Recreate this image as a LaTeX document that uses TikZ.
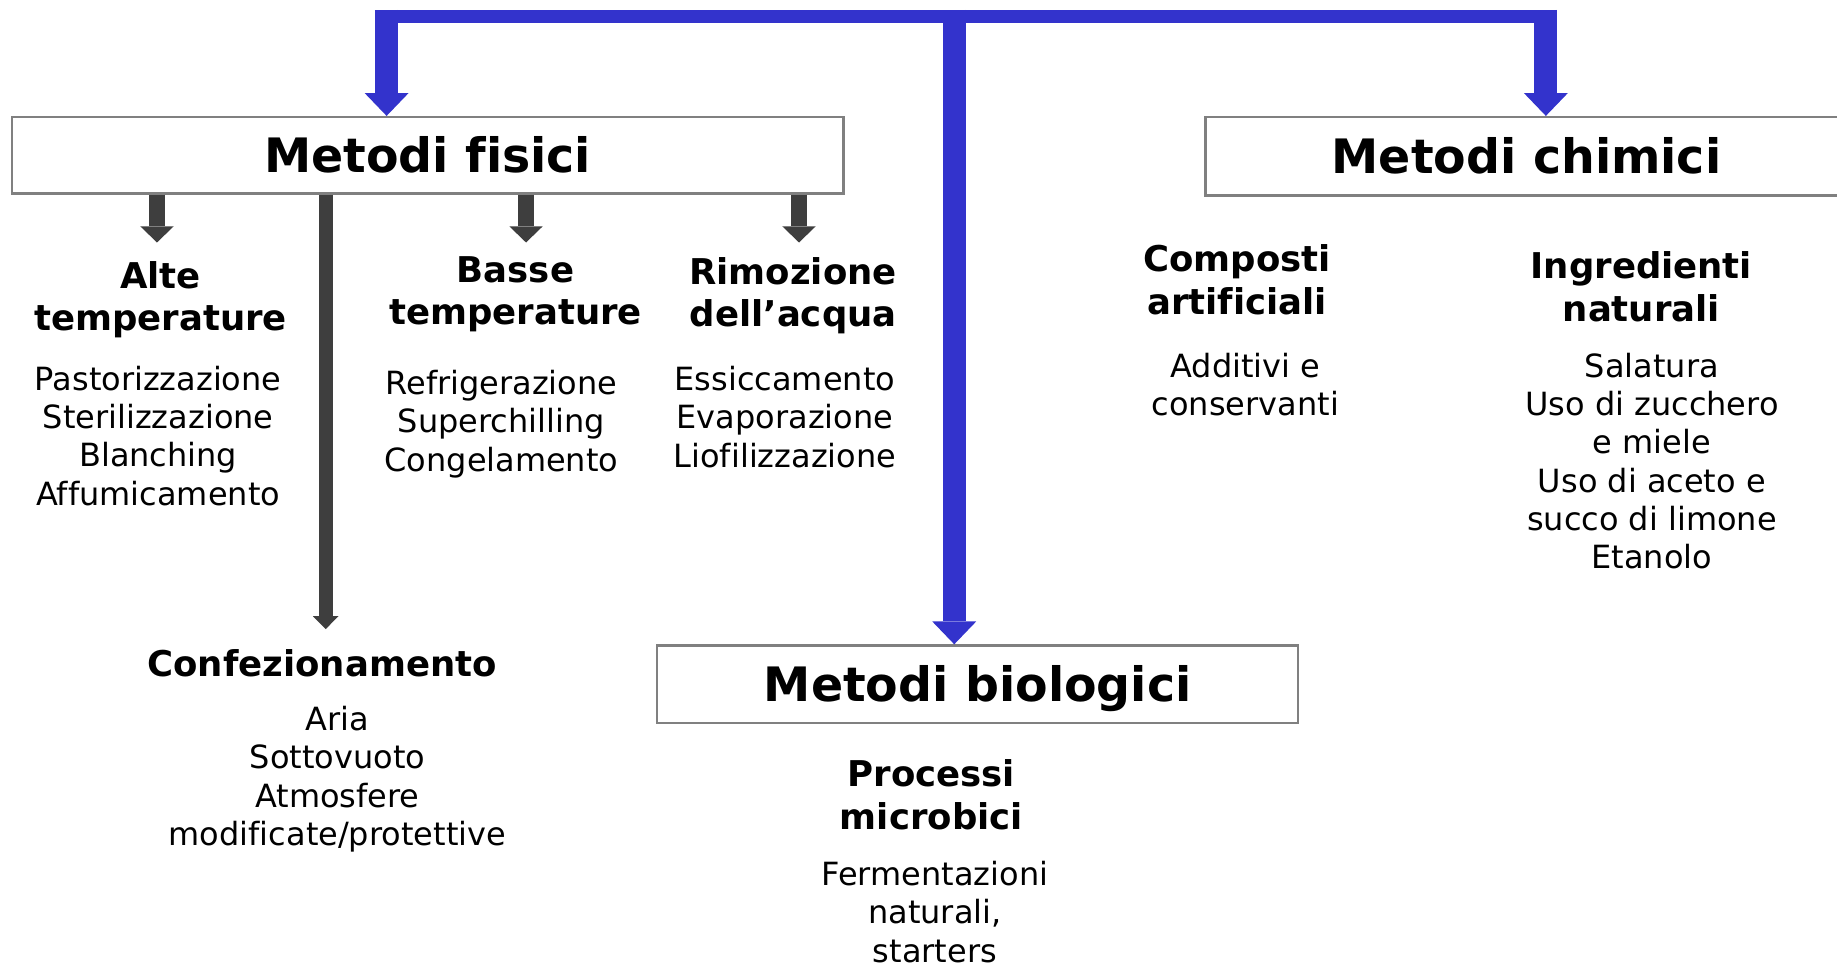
\documentclass[tikz,border=0pt]{standalone}
\usepackage{fontspec}
\setmainfont{DejaVu Sans}[Ligatures=NoCommon]
\usetikzlibrary{arrows.meta,positioning}
\definecolor{barblue}{RGB}{51,51,204}
\definecolor{darkgrey}{RGB}{62,62,62}
\tikzset{
  titlebox/.style  = {draw=gray, line width=0.7pt, rectangle, inner sep=0pt, text height=9.84pt, text depth=0pt, font=\fontsize{13.5}{16}\selectfont\bfseries},
  headtext/.style  = {align=center, inner sep=0pt, font=\fontsize{10.1}{12.1}\selectfont\bfseries},
  listtext/.style  = {align=center, inner sep=0pt, font=\fontsize{9.1}{10.9}\selectfont},
  bluebar/.style   = {barblue, line width=3.6pt},
  bluearrow/.style = {barblue, line width=6.5pt, -{Triangle[width=12.5pt, length=6.5pt, line width=0pt]}},
  greyarrow/.style = {darkgrey, line width=4.6pt, -{Triangle[width=9.5pt, length=4.6pt, line width=0pt]}},
  longarrow/.style = {darkgrey, line width=4pt, -{Triangle[width=7.3pt, length=3.7pt, line width=0pt]}}
}

\begin{document}
\begin{tikzpicture}[x=0.011716cm, y=-0.011716cm]
\useasboundingbox (0,0) rectangle (1568,825);

% Main boxes
\draw node [titlebox, name=fisici, minimum width=8.318cm, minimum height=0.7615cm] at (365,132.5) {Metodi fisici};
\draw node [titlebox, name=chimici, minimum width=6.42cm, minimum height=0.785cm] at (1303,133.5) {Metodi chimici};
\draw node [titlebox, name=biologici, minimum width=6.41cm, minimum height=0.773cm] at (834.5,584) {Metodi biologici};

% Physical methods
\draw node [headtext, name=alte] at (137,256) {Alte\\temperature};
\draw node [listtext, name=alteList] at (135,372) {Pastorizzazione\\Sterilizzazione\\Blanching\\Affumicamento};
\draw node [headtext, name=basse] at (440,251) {Basse\\temperature};
\draw node [listtext, name=basseList] at (428,362) {Refrigerazione\\Superchilling\\Congelamento};
\draw node [headtext, name=rimozione] at (677,252.5) {Rimozione\\dell’acqua};
\draw node [listtext, name=rimozioneList] at (670,356) {Essiccamento\\Evaporazione\\Liofilizzazione};
\draw node [headtext, name=confez] at (275,566) {Confezionamento};
\draw node [listtext, name=confezList] at (288,665) {Aria\\Sottovuoto\\Atmosfere\\modificate/protettive};

% Chemical methods
\draw node [headtext, name=composti] at (1056,239) {Composti\\artificiali};
\draw node [listtext, name=compostiList] at (1063,328.5) {Additivi e\\conservanti};
\draw node [headtext, name=ingredienti] at (1401,245) {Ingredienti\\naturali};
\draw node [listtext, name=ingredientiList] at (1410,393.5) {Salatura\\Uso di zucchero\\e miele\\Uso di aceto e\\succo di limone\\Etanolo};

% Biological methods
\draw node [headtext, name=processi] at (795,678.5) {Processi\\microbici};
\draw node [listtext, name=processiList] at (798,778.5) {Fermentazioni\\naturali,\\starters};

% Top bar
\coordinate (barL) at (320,14);
\coordinate (barR) at (1324,14);
\coordinate (s1) at (330,8.5);
\coordinate (s2) at (814.5,8.5);
\coordinate (s3) at (1319.5,8.5);
\draw[bluebar] (barL) -- (barR);
\draw[bluearrow] (s1) -- (s1 |- fisici.north);
\draw[bluearrow] (s2) -- (s2 |- biologici.north);
\draw[bluearrow] (s3) -- (s3 |- chimici.north);

% Grey arrows
\coordinate (a1) at (134,207);
\coordinate (a2) at (278,537);
\coordinate (a3) at (449,207);
\coordinate (a4) at (682,207);
\draw[greyarrow] (a1 |- fisici.south) -- (a1);
\draw[longarrow] (a2 |- fisici.south) -- (a2);
\draw[greyarrow] (a3 |- fisici.south) -- (a3);
\draw[greyarrow] (a4 |- fisici.south) -- (a4);

\end{tikzpicture}
\end{document}
